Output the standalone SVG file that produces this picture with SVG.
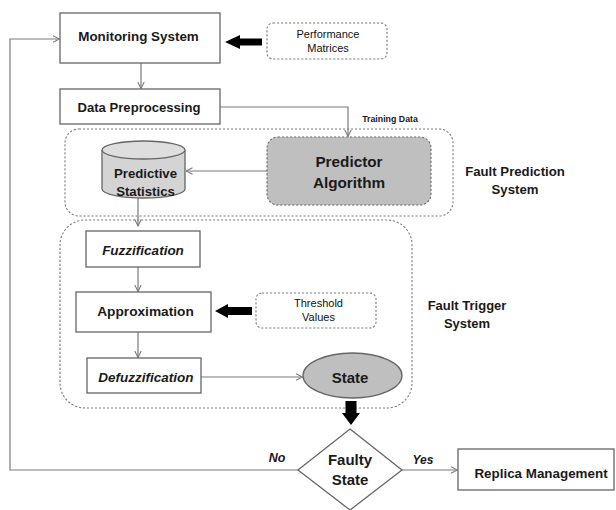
<svg xmlns="http://www.w3.org/2000/svg" width="616" height="510" viewBox="0 0 616 510">
  <style>
    .box { fill: #ffffff; stroke: #666666; stroke-width: 1.3; }
    .dash { fill: none; stroke: #7d7d7d; stroke-width: 1.1; stroke-dasharray: 2.2 1.8; }
    .dashw { fill: #ffffff; stroke: #7d7d7d; stroke-width: 1.1; stroke-dasharray: 2.2 1.8; }
    .conn { fill: none; stroke: #7a7a7a; stroke-width: 1.2; }
    .thick { fill: #000000; }
    text { font-family: "Liberation Sans", Arial, sans-serif; fill: #1a1a1a; text-anchor: middle; dominant-baseline: central; }
    .b { font-weight: bold; }
    .bi { font-weight: bold; font-style: italic; }
    .sm { font-size: 11px; fill: #111111; }
  </style>
  <defs>
    <marker id="open" viewBox="0 0 8 8" refX="7.5" refY="4" markerWidth="8" markerHeight="8" markerUnits="userSpaceOnUse" orient="auto">
      <path d="M1,0.8 L7.5,4 L1,7.2" fill="none" stroke="#7a7a7a" stroke-width="1.1"/>
    </marker>
  </defs>

  <!-- system containers -->
  <g id="fault-prediction-system">
    <rect class="dash" x="65" y="129" width="388" height="87" rx="14"/>
    <text class="b" x="515" y="171" font-size="13.2">Fault Prediction</text>
    <text class="b" x="515" y="189" font-size="13.2">System</text>
  </g>
  <g id="fault-trigger-system">
    <rect class="dash" x="60" y="220" width="352" height="188" rx="25"/>
    <text class="b" x="467" y="305" font-size="13">Fault Trigger</text>
    <text class="b" x="467" y="323" font-size="13">System</text>
  </g>

  <!-- connectors -->
  <g id="connectors">
    <line class="conn" x1="141" y1="63" x2="141" y2="88.5" marker-end="url(#open)"/>
    <polyline class="conn" points="220,107 348,107 348,136.5" marker-end="url(#open)"/>
    <line class="conn" x1="267" y1="171" x2="186" y2="171" marker-end="url(#open)"/>
    <line class="conn" x1="138" y1="198" x2="138" y2="226" marker-end="url(#open)"/>
    <line class="conn" x1="138" y1="267" x2="138" y2="291.5" marker-end="url(#open)"/>
    <line class="conn" x1="138" y1="332" x2="138" y2="357.5" marker-end="url(#open)"/>
    <line class="conn" x1="201" y1="377" x2="302.5" y2="377" marker-end="url(#open)"/>
    <line class="conn" x1="402" y1="470" x2="457.5" y2="470" marker-end="url(#open)"/>
    <polyline class="conn" points="298,470 10,470 10,39 59.5,39" marker-end="url(#open)"/>
    <!-- bold input arrows -->
    <polygon class="thick" points="225,42 240,35 240,38.5 262,38.5 262,45.5 240,45.5 240,49"/>
    <polygon class="thick" points="215,311 228,304 228,307 252,307 252,315 228,315 228,318"/>
    <polygon class="thick" points="351,425 342,413 345.5,413 345.5,401 356.5,401 356.5,413 360,413"/>
    <text class="b" x="390" y="119" font-size="8.8">Training Data</text>
    <text class="bi" x="277" y="458" font-size="12.5">No</text>
    <text class="bi" x="423" y="460" font-size="12">Yes</text>
  </g>

  <g id="monitoring-system">
    <rect class="box" x="60" y="13" width="160" height="50"/>
    <text class="b" x="138.5" y="36" font-size="13.4">Monitoring System</text>
  </g>

  <g id="performance-matrices">
    <rect class="dashw" x="267" y="23" width="120" height="36" rx="6"/>
    <text class="sm" x="328" y="34">Performance</text>
    <text class="sm" x="328" y="48">Matrices</text>
  </g>

  <g id="data-preprocessing">
    <rect class="box" x="60" y="89" width="160" height="35"/>
    <text class="b" x="139" y="107.5" font-size="13.1">Data Preprocessing</text>
  </g>

  <g id="predictive-statistics">
    <path d="M102,150 L102,189 A41.5,9 0 0 0 185,189 L185,150" fill="#d4d4d4" stroke="#666666" stroke-width="1.3"/>
    <ellipse cx="143.5" cy="150" rx="41.5" ry="9" fill="#dedede" stroke="#666666" stroke-width="1.3"/>
    <text class="b" x="145.5" y="173" font-size="13.2">Predictive</text>
    <text class="b" x="145.5" y="191.5" font-size="13.2">Statistics</text>
  </g>

  <g id="predictor-algorithm">
    <rect x="267" y="137" width="164" height="68" rx="11" fill="#bfbfbf" stroke="#6a6a6a" stroke-width="1.1" stroke-dasharray="2.2 1.8"/>
    <text class="b" x="349" y="161" font-size="15.3">Predictor</text>
    <text class="b" x="349" y="182.5" font-size="15.3">Algorithm</text>
  </g>

  <g id="fuzzification">
    <rect class="box" x="86" y="231" width="114" height="36"/>
    <text class="bi" x="143" y="250.5" font-size="13.5">Fuzzification</text>
  </g>

  <g id="approximation">
    <rect class="box" x="76" y="292" width="135" height="40"/>
    <text class="b" x="145.5" y="311" font-size="13.7">Approximation</text>
  </g>

  <g id="threshold-values">
    <rect class="dashw" x="256" y="293" width="120" height="35" rx="6"/>
    <text class="sm" x="318.5" y="303">Threshold</text>
    <text class="sm" x="318.5" y="317">Values</text>
  </g>

  <g id="defuzzification">
    <rect class="box" x="87" y="358" width="114" height="35"/>
    <text class="bi" x="146" y="377" font-size="13.5">Defuzzification</text>
  </g>

  <g id="state">
    <ellipse cx="352.5" cy="375.5" rx="49.5" ry="22.5" fill="#bfbfbf" stroke="#666666" stroke-width="1.3"/>
    <text class="b" x="350" y="377" font-size="15">State</text>
  </g>

  <g id="faulty-state">
    <polygon class="box" points="350,429 402,470 350,510 298,470"/>
    <text class="b" x="350" y="459" font-size="15">Faulty</text>
    <text class="b" x="350" y="479.5" font-size="15">State</text>
  </g>

  <g id="replica-management">
    <rect class="box" x="458" y="449" width="156" height="41"/>
    <text class="b" x="541" y="473" font-size="13.4">Replica Management</text>
  </g>
</svg>
